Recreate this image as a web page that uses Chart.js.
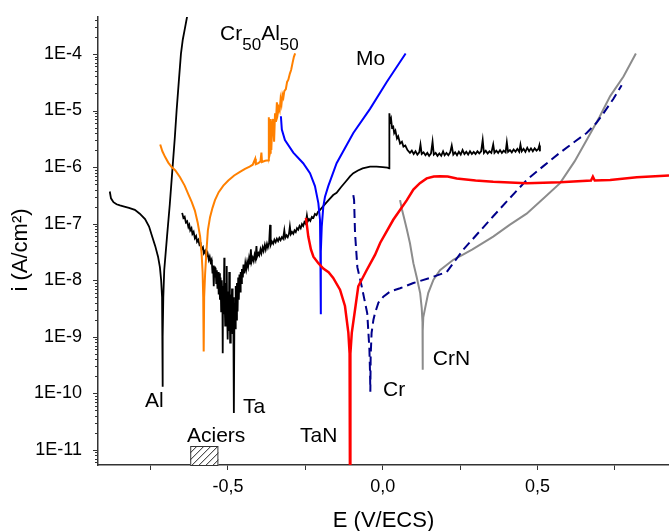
<!DOCTYPE html>
<html>
<head>
<meta charset="utf-8">
<script src="https://cdn.jsdelivr.net/npm/chart.js@4/dist/chart.umd.min.js"></script>
<style>
  html, body { margin: 0; padding: 0; background: #ffffff; }
  #wrap { width: 669px; height: 531px; }
</style>
</head>
<body>
<div id="wrap"><canvas id="c" width="669" height="531"></canvas></div>
<script>
// ---------- Data (E in V/ECS, i in A/cm²) ----------
const alE = [-0.882,-0.878,-0.870,-0.860,-0.849,-0.835,-0.820,-0.801,-0.785,-0.768,-0.755,-0.745,-0.735,-0.726,-0.720,-0.716,-0.713,-0.7115,-0.711,-0.7105,-0.709,-0.706,-0.697,-0.688,-0.679,-0.672,-0.666,-0.659,-0.652,-0.646,-0.641,-0.632];
const alI = [3.7e-7,2.8e-7,2.4e-7,2.2e-7,2.1e-7,2.0e-7,1.9e-7,1.75e-7,1.5e-7,1.2e-7,8.9e-8,5.9e-8,4.0e-8,2.6e-8,1.7e-8,1.0e-8,5.0e-9,1.0e-9,1.3e-10,1.0e-9,5.0e-9,1.5e-8,5.9e-8,2.2e-7,1.0e-6,3.2e-6,1.0e-5,3.2e-5,1.0e-4,1.8e-4,2.5e-4,4.6e-4];

const crAlE = [-0.719,-0.712,-0.703,-0.693,-0.682,-0.670,-0.655,-0.640,-0.628,-0.617,-0.607,-0.598,-0.590,-0.585,-0.582,-0.580,-0.5785,-0.577,-0.574,-0.570,-0.565,-0.558,-0.550,-0.542,-0.530,-0.515,-0.499,-0.480,-0.460,-0.445,-0.430,-0.420,-0.412,-0.410,-0.402,-0.395,-0.392,-0.390,-0.380,-0.369,-0.368,-0.366,-0.364,-0.362,-0.360,-0.357,-0.354,-0.351,-0.348,-0.345,-0.342,-0.339,-0.336,-0.333,-0.330,-0.327,-0.324,-0.321,-0.318,-0.313,-0.309,-0.305,-0.300,-0.296,-0.291,-0.287,-0.283];
const crAlI = [2.5e-6,1.9e-6,1.5e-6,1.2e-6,1.0e-6,8.7e-7,6.6e-7,4.7e-7,3.3e-7,2.4e-7,1.7e-7,1.05e-7,5.9e-8,2.8e-8,1.4e-8,5.0e-9,5.5e-10,5.0e-9,1.26e-8,3.0e-8,7.6e-8,1.3e-7,1.9e-7,2.6e-7,3.6e-7,4.7e-7,5.8e-7,7.1e-7,8.3e-7,9.3e-7,1.02e-6,1.1e-6,1.4e-6,1.12e-6,1.17e-6,1.26e-6,1.8e-6,1.23e-6,1.29e-6,1.32e-6,7.6e-6,1.6e-6,1.8e-6,7.1e-6,2.0e-6,5.6e-6,7.1e-6,2.8e-6,8.9e-6,6.3e-6,1.4e-5,8.9e-6,1.12e-5,1.0e-5,1.6e-5,1.3e-5,1.9e-5,1.7e-5,2.2e-5,2.4e-5,3.2e-5,3.5e-5,4.5e-5,5.2e-5,7.1e-5,8.9e-5,1.02e-4];

const taE = [-0.648,-0.644,-0.640,-0.636,-0.632,-0.628,-0.625,-0.622,-0.618,-0.615,-0.611,-0.607,-0.603,-0.600,-0.596,-0.592,-0.588,-0.585,-0.581,-0.578,-0.574,-0.570,-0.566,-0.562,-0.559,-0.556,-0.553,
  -0.552,-0.550,-0.548,-0.546,-0.544,-0.542,-0.540,-0.538,-0.536,-0.534,-0.532,-0.530,-0.528,-0.526,-0.524,-0.522,-0.520,-0.518,-0.517,-0.516,-0.514,-0.512,-0.511,-0.509,-0.507,-0.505,-0.504,-0.503,-0.501,-0.499,-0.497,-0.496,-0.494,-0.493,-0.491,-0.489,-0.487,-0.485,-0.483,-0.481,-0.479,-0.477,-0.475,-0.473,-0.471,-0.469,-0.467,-0.465,-0.463,-0.461,-0.459,-0.457,-0.455,-0.452,-0.450,-0.447,-0.444,
  -0.441,-0.438,-0.435,-0.432,-0.429,-0.426,-0.424,-0.420,-0.417,-0.414,-0.411,-0.408,-0.406,-0.402,-0.399,-0.395,-0.392,-0.388,-0.385,-0.381,-0.378,-0.374,-0.371,-0.367,-0.364,-0.362,-0.358,-0.354,-0.350,-0.346,-0.342,-0.338,-0.334,-0.330,-0.326,-0.322,-0.318,-0.315,-0.311,-0.307,-0.303,-0.300,-0.297,-0.293,-0.289,-0.285,-0.281,-0.277,-0.273,-0.269,-0.265,-0.261,-0.257,-0.253,-0.249,-0.245,-0.242,-0.238,-0.234,-0.229,-0.224,-0.219,-0.214,-0.209,
  -0.203,-0.190,-0.175,-0.160,-0.149,-0.135,-0.120,-0.105,-0.095,-0.080,-0.065,-0.041,-0.020,0.000,0.015,0.021,
  0.0215,0.024,0.027,0.030,0.034,0.037,0.041,0.046,0.050,0.056,0.062,0.067,0.073,0.080,
  0.088,0.094,0.100,0.106,0.112,0.118,0.122,0.126,0.132,0.138,0.144,0.150,0.156,0.161,0.165,0.171,0.177,0.183,0.189,0.195,0.200,0.206,0.212,0.218,0.223,0.228,0.234,0.240,0.246,0.252,0.258,0.264,0.270,0.276,0.282,0.288,0.294,0.300,0.306,0.312,0.318,0.323,0.327,0.333,0.339,0.345,0.351,0.357,0.361,0.367,0.373,0.379,0.385,0.391,0.397,0.401,0.405,0.411,0.417,0.423,0.429,0.435,0.441,0.445,0.449,0.455,0.461,0.467,0.473,0.479,0.485,0.491,0.497,0.503,0.506,0.508];
const taI = [1.55e-7,1.26e-7,1.32e-7,1.05e-7,1.1e-7,8.7e-8,9.5e-8,7.6e-8,8.3e-8,6.6e-8,7.2e-8,5.5e-8,6.0e-8,4.8e-8,5.2e-8,4.2e-8,4.4e-8,3.5e-8,3.8e-8,3.0e-8,3.3e-8,2.6e-8,3.0e-8,2.3e-8,2.6e-8,2.1e-8,2.3e-8,
  2.0e-8,1.32e-8,1.82e-8,7.8e-9,1.74e-8,1.12e-8,1.66e-8,8.9e-9,1.5e-8,7.1e-9,1.4e-8,5.6e-9,1.32e-8,4.5e-9,1.12e-8,2.8e-9,1.0e-8,4.0e-9,5.1e-10,7.9e-9,2.5e-9,2.5e-8,5.0e-9,1.58e-9,8.9e-9,2.0e-9,1.78e-8,3.2e-9,8.9e-10,6.3e-9,1.26e-9,1.4e-8,2.5e-9,7.9e-10,5.6e-9,1.58e-9,7.1e-9,1.12e-9,5.0e-9,4.5e-11,4.0e-9,1.41e-9,7.9e-9,2.0e-9,8.9e-9,2.8e-9,1.12e-8,4.5e-9,1.26e-8,6.3e-9,1.4e-8,8.9e-9,1.58e-8,1.12e-8,1.9e-8,1.32e-8,2.0e-8,
  1.58e-8,2.1e-8,1.74e-8,2.4e-8,1.9e-8,3.5e-8,2.1e-8,2.5e-8,2.2e-8,2.8e-8,2.4e-8,4.0e-8,2.6e-8,3.0e-8,2.75e-8,3.5e-8,3.0e-8,3.8e-8,3.3e-8,4.2e-8,3.5e-8,4.4e-8,3.8e-8,4.6e-8,9.5e-8,4.2e-8,4.8e-8,4.4e-8,5.2e-8,4.7e-8,5.4e-8,4.9e-8,5.6e-8,5.1e-8,5.75e-8,5.4e-8,7.6e-8,5.6e-8,6.2e-8,5.75e-8,6.6e-8,8.9e-8,6.5e-8,7.1e-8,6.6e-8,7.6e-8,7.1e-8,8.3e-8,7.8e-8,9.1e-8,8.3e-8,9.8e-8,9.1e-8,1.07e-7,1.0e-7,1.4e-7,1.1e-7,1.2e-7,1.12e-7,1.32e-7,1.26e-7,1.48e-7,1.41e-7,1.62e-7,
  1.74e-7,2.1e-7,2.6e-7,3.2e-7,3.5e-7,4.4e-7,5.5e-7,6.9e-7,7.8e-7,8.7e-7,9.5e-7,1.02e-6,1.02e-6,1.0e-6,9.8e-7,9.5e-7,
  8.9e-6,6.3e-6,7.1e-6,5.0e-6,5.2e-6,4.0e-6,4.4e-6,3.2e-6,3.5e-6,2.6e-6,2.8e-6,2.3e-6,2.4e-6,2.0e-6,
  1.78e-6,1.95e-6,1.7e-6,1.9e-6,1.66e-6,1.82e-6,2.5e-6,1.7e-6,1.82e-6,1.62e-6,1.78e-6,1.58e-6,1.74e-6,2.8e-6,1.66e-6,1.78e-6,1.58e-6,1.74e-6,1.58e-6,1.9e-6,1.62e-6,1.78e-6,1.62e-6,1.82e-6,2.4e-6,1.66e-6,1.82e-6,1.62e-6,1.86e-6,1.66e-6,2.0e-6,1.7e-6,1.86e-6,1.66e-6,1.9e-6,1.7e-6,1.86e-6,1.7e-6,1.9e-6,1.74e-6,1.9e-6,3.0e-6,1.78e-6,1.95e-6,1.74e-6,1.9e-6,1.78e-6,2.5e-6,1.78e-6,1.95e-6,1.78e-6,2.0e-6,1.78e-6,1.95e-6,1.82e-6,2.75e-6,1.86e-6,2.0e-6,1.82e-6,2.04e-6,1.86e-6,2.1e-6,1.86e-6,2.5e-6,1.9e-6,2.1e-6,1.86e-6,2.2e-6,1.9e-6,2.14e-6,1.9e-6,2.14e-6,1.95e-6,2.1e-6,2.4e-6,1.9e-6];

const moE = [-0.329,-0.326,-0.316,-0.289,-0.257,-0.235,-0.219,-0.208,-0.2027,-0.2015,-0.2005,-0.1995,-0.197,-0.192,-0.1865,-0.176,-0.149,-0.095,-0.041,0.013,0.074];
const moI = [7.9e-6,4.6e-6,3.0e-6,1.8e-6,1.17e-6,7.8e-7,4.6e-7,2.3e-7,1.17e-7,3.2e-8,2.5e-9,3.2e-8,8.9e-8,2.0e-7,3.0e-7,4.6e-7,1.17e-6,4.0e-6,1.07e-5,3.2e-5,1.02e-4];

const taNE = [-0.248,-0.2405,-0.232,-0.224,-0.208,-0.192,-0.175,-0.160,-0.138,-0.122,-0.111,-0.107,-0.1057,-0.1045,-0.100,-0.0895,-0.079,-0.052,-0.025,-0.008,0.034,0.078,0.099,0.120,0.142,0.165,0.185,0.210,0.239,0.300,0.357,0.465,0.573,0.673,0.679,0.685,0.735,0.821,0.925];
const taNI = [1.26e-7,5.9e-8,3.5e-8,2.6e-8,2.0e-8,1.6e-8,1.38e-8,1.1e-8,6.8e-9,3.5e-9,1.17e-9,5.0e-10,1.0e-12,5.0e-10,1.17e-9,3.0e-9,7.8e-9,1.5e-8,2.8e-8,4.6e-8,1.17e-7,2.6e-7,4.0e-7,5.2e-7,6.3e-7,6.8e-7,6.9e-7,6.8e-7,6.3e-7,5.8e-7,5.5e-7,5.2e-7,5.4e-7,5.8e-7,6.8e-7,5.8e-7,5.9e-7,6.6e-7,7.1e-7];

const crE = [-0.095,-0.0925,-0.0895,-0.082,-0.068,-0.050,-0.043,-0.041,-0.040,-0.039,-0.036,-0.030,-0.025,-0.014,0.002,0.024,0.056,0.099,0.153,0.207,0.261,0.357,0.410,0.465,0.520,0.573,0.620,0.659,0.690,0.713,0.745,0.772];
const crI = [3.2e-7,2.6e-7,6.8e-8,1.7e-8,7.8e-9,2.6e-9,5.9e-10,2.3e-10,1.07e-10,4.5e-10,1.17e-9,2.0e-9,2.6e-9,4.0e-9,5.1e-9,6.3e-9,7.2e-9,8.9e-9,1.1e-8,1.4e-8,3.5e-8,1.35e-7,2.8e-7,5.9e-7,1.05e-6,1.8e-6,2.8e-6,4.0e-6,6.0e-6,8.9e-6,1.6e-5,2.8e-5];

const crNE = [0.056,0.062,0.070,0.078,0.088,0.099,0.110,0.121,0.126,0.1285,0.129,0.1295,0.131,0.137,0.147,0.164,0.185,0.228,0.255,0.290,0.357,0.410,0.465,0.520,0.573,0.620,0.659,0.700,0.735,0.778,0.818];
const crNI = [2.6e-7,1.8e-7,1.2e-7,7.9e-8,4.5e-8,2.0e-8,1.12e-8,5.9e-9,3.2e-9,1.8e-9,2.6e-10,1.26e-9,2.2e-9,3.2e-9,5.9e-9,1.02e-8,1.5e-8,2.3e-8,2.75e-8,3.5e-8,5.9e-8,9.5e-8,1.5e-7,2.8e-7,5.2e-7,1.26e-6,3.0e-6,7.6e-6,1.8e-5,4.0e-5,1.02e-4];

// steel ("Aciers") corrosion-potential range
const aciersE = [-0.622, -0.531];
const aciersTopI = 1.17e-11;

// axis ticks
const xTickValues = [-0.75, -0.5, -0.25, 0, 0.25, 0.5, 0.75];
const xLabelValues = [-0.5, 0, 0.5];
const yDecades = [-11, -10, -9, -8, -7, -6, -5, -4];

// curve labels: [text, E, i]
const curveLabels = [
  ['Al', -0.768, 5.7e-11],
  ['Ta', -0.4515, 4.4e-11],
  ['Aciers', -0.6325, 1.4e-11],
  ['TaN', -0.267, 1.35e-11],
  ['Cr', 0.001, 9.1e-11],
  ['CrN', 0.1616, 3.2e-10],
  ['Mo', -0.0863, 6.4e-5]
];
const crAlLabelPos = [-0.5256, 1.77e-4];
const yTitleText = 'i (A/cm²)';

// ---------- helpers ----------
function pts(E, I) { return E.map((e, k) => ({ x: e, y: I[k] })); }
const FONT = '"Liberation Sans", Arial, sans-serif';

const overlay = {
  id: 'overlay',
  afterDraw(chart) {
    const { ctx, chartArea, scales } = chart;
    const xs = scales.x, ys = scales.y;
    ctx.save();
    // y-axis tick marks (major + minor)
    ctx.strokeStyle = '#333';
    ctx.lineWidth = 1;
    ys.ticks.forEach(t => {
      const py = Math.round(ys.getPixelForValue(t.value)) + 0.5;
      const len = t.major ? 5 : 3;
      ctx.beginPath();
      ctx.moveTo(chartArea.left - len, py);
      ctx.lineTo(chartArea.left, py);
      ctx.stroke();
    });
    // y-axis title
    ctx.save();
    ctx.translate(21, chartArea.top + (chartArea.bottom - chartArea.top) / 2 + 9);
    ctx.rotate(-Math.PI / 2);
    ctx.font = '22px ' + FONT;
    ctx.fillStyle = '#000';
    ctx.textAlign = 'center';
    ctx.textBaseline = 'middle';
    ctx.fillText(yTitleText, 0, 0);
    ctx.restore();
    // Aciers hatched box
    const x1 = xs.getPixelForValue(aciersE[0]);
    const x2 = xs.getPixelForValue(aciersE[1]);
    const yt = ys.getPixelForValue(aciersTopI);
    const yb = chartArea.bottom;
    ctx.fillStyle = '#fff';
    ctx.fillRect(x1, yt, x2 - x1, yb - yt);
    ctx.save();
    ctx.beginPath();
    ctx.rect(x1, yt, x2 - x1, yb - yt);
    ctx.clip();
    ctx.strokeStyle = '#222';
    ctx.lineWidth = 1;
    const h = yb - yt;
    for (let x = x1 - h; x < x2 + h; x += 7) {
      ctx.beginPath();
      ctx.moveTo(x, yb);
      ctx.lineTo(x + h, yt);
      ctx.stroke();
    }
    ctx.restore();
    ctx.strokeStyle = '#333';
    ctx.strokeRect(x1 + 0.5, yt + 0.5, x2 - x1 - 1, yb - yt);
    // curve labels
    ctx.fillStyle = '#000';
    ctx.textAlign = 'left';
    ctx.textBaseline = 'alphabetic';
    ctx.font = '21px ' + FONT;
    curveLabels.forEach(([txt, e, i]) => {
      ctx.fillText(txt, xs.getPixelForValue(e), ys.getPixelForValue(i));
    });
    // Cr50Al50 with subscripts
    let lx = xs.getPixelForValue(crAlLabelPos[0]);
    const ly = ys.getPixelForValue(crAlLabelPos[1]);
    const parts = [['Cr', false], ['50', true], ['Al', false], ['50', true]];
    parts.forEach(([s, sub]) => {
      ctx.font = (sub ? '17px ' : '21px ') + FONT;
      ctx.fillText(s, lx, ly + (sub ? 10 : 0));
      lx += ctx.measureText(s).width;
    });
    ctx.restore();
  }
};

const common = { showLine: true, pointRadius: 0, pointHoverRadius: 0, tension: 0, fill: false };

new Chart(document.getElementById('c'), {
  type: 'scatter',
  data: {
    datasets: [
      { ...common, label: 'TaN', data: pts(taNE, taNI), borderColor: '#ff0000', borderWidth: 2.5 },
      { ...common, label: 'Mo', data: pts(moE, moI), borderColor: '#0000ff', borderWidth: 2 },
      { ...common, label: 'Cr50Al50', data: pts(crAlE, crAlI), borderColor: '#ff8000', borderWidth: 2 },
      { ...common, label: 'Cr', data: pts(crE, crI), borderColor: '#00008b', borderWidth: 2, borderDash: [9, 5] },
      { ...common, label: 'CrN', data: pts(crNE, crNI), borderColor: '#8c8c8c', borderWidth: 2 },
      { ...common, label: 'Ta', data: pts(taE, taI), borderColor: '#000000', borderWidth: 1.8 },
      { ...common, label: 'Al', data: pts(alE, alI), borderColor: '#000000', borderWidth: 1.8 }
    ]
  },
  options: {
    responsive: false,
    devicePixelRatio: 1,
    animation: false,
    layout: { padding: { top: 17, right: 0, bottom: 0, left: 0 } },
    plugins: { legend: { display: false }, tooltip: { enabled: false } },
    scales: {
      x: {
        type: 'linear',
        min: -0.92,
        max: 0.925,
        afterBuildTicks: s => { s.ticks = xTickValues.map(v => ({ value: v })); },
        afterFit: s => { s.height = 66; s.paddingLeft = 0; s.paddingRight = 0; },
        ticks: {
          autoSkip: false,
          maxRotation: 0,
          padding: 6,
          color: '#000',
          font: { family: FONT, size: 18 },
          callback: v => xLabelValues.some(l => Math.abs(l - v) < 1e-9) ? v.toFixed(1).replace('.', ',') : ''
        },
        grid: { display: true, drawOnChartArea: false, drawTicks: true, tickLength: 5, tickColor: '#333', tickWidth: 1 },
        border: { display: true, color: '#333', width: 1.5 },
        title: { display: true, text: 'E (V/ECS)', color: '#000', font: { family: FONT, size: 22, lineHeight: 0.8 }, padding: { top: 0, bottom: 1 } }
      },
      y: {
        type: 'logarithmic',
        min: 5.4e-12,
        max: 4.5e-4,
        afterBuildTicks: s => {
          const t = [];
          for (let d = -12; d <= -4; d++) {
            for (let m = 1; m <= 9; m++) {
              const v = m * Math.pow(10, d);
              if (v >= s.min && v <= s.max) t.push({ value: v, major: m === 1 });
            }
          }
          s.ticks = t;
        },
        afterFit: s => { s.width = 98; s.paddingTop = 0; s.paddingBottom = 0; },
        ticks: {
          autoSkip: false,
          padding: 16,
          color: '#000',
          font: { family: FONT, size: 18 },
          callback: v => {
            const l = Math.log10(v);
            const r = Math.round(l);
            return (Math.abs(l - r) < 1e-6 && yDecades.includes(r)) ? '1E' + r : '';
          }
        },
        grid: { display: true, drawOnChartArea: false, drawTicks: false },
        border: { display: true, color: '#333', width: 1.5 },
        title: { display: false, text: yTitleText }
      }
    }
  },
  plugins: [overlay]
});
</script>
</body>
</html>
